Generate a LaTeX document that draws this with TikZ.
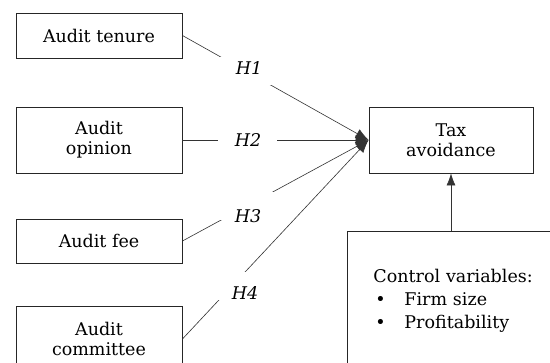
\documentclass[tikz,border=0pt]{standalone}
\usepackage{fontspec}
\setmainfont{DejaVu Serif}
\usetikzlibrary{arrows.meta}
\begin{document}
\begin{tikzpicture}[x=1pt,y=-1pt,
  box/.style={draw=black!85,line width=0.9pt,fill=white,align=center,inner sep=0pt,font=\fontsize{17.5}{20}\selectfont},
  conn/.style={draw=black!80,line width=0.6pt,-{Latex[length=13pt,width=10pt]}},
  vconn/.style={draw=black!80,line width=0.6pt,-{Latex[length=12pt,width=9pt]}},
  cover/.style={fill=white,inner sep=0pt,minimum width=59pt,minimum height=28pt},
  hlab/.style={font=\fontsize{17.5}{20}\selectfont\itshape,inner sep=0pt}]
\clip (0,0) rectangle (550,363);
\fill[white] (0,0) rectangle (550,363);
\node[box,minimum width=166pt,minimum height=45pt] (ten) at (99,35.5) {Audit tenure};
\node[box,minimum width=166pt,minimum height=66pt] (opi) at (99,140) {Audit\\opinion};
\node[box,minimum width=166pt,minimum height=44pt] (fee) at (99,241) {Audit fee};
\node[box,minimum width=166pt,minimum height=66pt] (com) at (99,339) {Audit\\committee};
\node[box,minimum width=164pt,minimum height=66pt] (tax) at (451,140) {Tax\\avoidance};
\node[box,anchor=north west,minimum width=212pt,minimum height=138pt,text width=186pt,inner xsep=26pt,align=left,font=\fontsize{17.5}{23}\selectfont] (ctl) at (347,231)
  {Control variables:\\\makebox[31pt][l]{\hspace{2pt}\textbullet}Firm size\\\makebox[31pt][l]{\hspace{2pt}\textbullet}Profitability};
\draw[conn] (ten.east) -- (tax.west) node[cover,pos=0.342] (g1) {};
\draw[conn] (opi.east) -- (tax.west) node[cover,pos=0.35] (g2) {};
\draw[conn] (fee.east) -- (tax.west) node[cover,pos=0.348] (g3) {};
\draw[conn] (com.east) -- (tax.west) node[cover,pos=0.265] (g4) {};
\draw[vconn] (ctl.north -| tax.south) -- (tax.south);
\node[hlab] (h1) at (249,68) {H1};
\node[hlab] (h2) at (248,140) {H2};
\node[hlab] (h3) at (248,216) {H3};
\node[hlab] (h4) at (245,293) {H4};
\end{tikzpicture}
\end{document}
